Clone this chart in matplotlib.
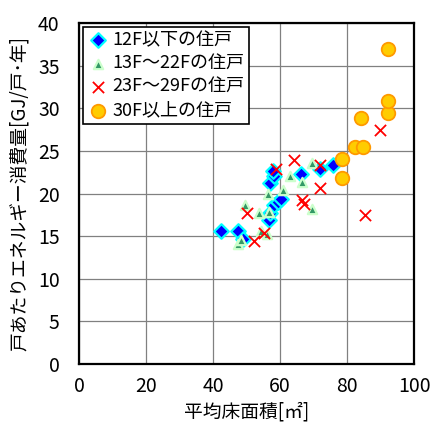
import matplotlib
matplotlib.use("Agg")
from matplotlib import pyplot as plt

plt.rcParams['font.family'] = ['Noto Sans CJK JP', 'DejaVu Sans']

# 12F以下
low_x = [42.4, 47.4, 49.0, 56.7, 57.0, 58.3, 59.3, 60.3, 57.0, 58.3, 58.0, 66.2, 72.0, 75.8]
low_y = [15.6, 15.6, 14.7, 16.9, 17.7, 18.6, 19.0, 19.4, 21.2, 22.1, 22.6, 22.3, 22.9, 23.4]

# 13F~22F
mid_x = [47.3, 48.3, 49.6, 53.8, 54.4, 56.2, 56.8, 56.5, 61.0, 63.0, 66.6, 69.6, 69.6]
mid_y = [14.1, 14.6, 18.6, 17.7, 15.6, 15.2, 17.8, 20.0, 20.4, 22.0, 21.4, 23.6, 18.2]

# 23F~29F
high_x = [50.0, 52.1, 55.1, 58.8, 64.0, 66.5, 67.0, 71.9, 71.9, 85.4, 89.9]
high_y = [17.7, 14.4, 15.4, 22.9, 23.9, 19.2, 18.8, 23.3, 20.7, 17.5, 27.4]

# 30F以上
top_x = [78.4, 78.4, 82.4, 84.6, 84.1, 92.3, 92.3, 92.3]
top_y = [24.1, 21.8, 25.4, 25.4, 28.8, 29.4, 30.8, 37.0]

fig = plt.figure(figsize=(4.3, 4.3), dpi=100)
ax = fig.add_axes([0.184, 0.1535, 0.779, 0.793])

ax.scatter(low_x, low_y, marker="D", s=55, facecolor="#0000FF", edgecolor="#00FFFF",
           linewidths=1.6, label="12F以下の住戸", zorder=3)
ax.scatter(mid_x, mid_y, marker="^", s=45, facecolor="#339966", edgecolor="#CCFFCC",
           linewidths=1.6, label="13F～22Fの住戸", zorder=3)
ax.scatter(high_x, high_y, marker="x", s=65, color="#FF0000",
           linewidths=1.3, label="23F～29Fの住戸", zorder=3)
ax.scatter(top_x, top_y, marker="o", s=95, facecolor="#FFCC00", edgecolor="#FF9900",
           linewidths=1.3, label="30F以上の住戸", zorder=3)

ax.set_xlim(0, 100)
ax.set_ylim(0, 40)
ax.set_xticks(range(0, 101, 20))
ax.set_yticks(range(0, 41, 5))
ax.grid(True, color="#808080", linewidth=0.9)
ax.set_axisbelow(True)
ax.tick_params(axis="x", length=0, labelsize=14, pad=9)
ax.tick_params(axis="y", length=0, labelsize=14, pad=14)
for s in ax.spines.values():
    s.set_linewidth(1.6)
    s.set_color("black")

ax.set_xlabel("平均床面積[㎡]", fontsize=13.5, labelpad=3)
ax.set_ylabel("戸あたりエネルギー消費量[GJ/戸･年]", fontsize=13.5, labelpad=6)

leg = ax.legend(loc="upper left", fontsize=13, frameon=True, fancybox=False,
                framealpha=1, edgecolor="black", borderaxespad=0.2,
                handletextpad=0.2, labelspacing=0.3, borderpad=0.25,
                handlelength=1.2, scatterpoints=1)
leg.get_frame().set_linewidth(1.2)

fig.savefig("out.png", dpi=100)
